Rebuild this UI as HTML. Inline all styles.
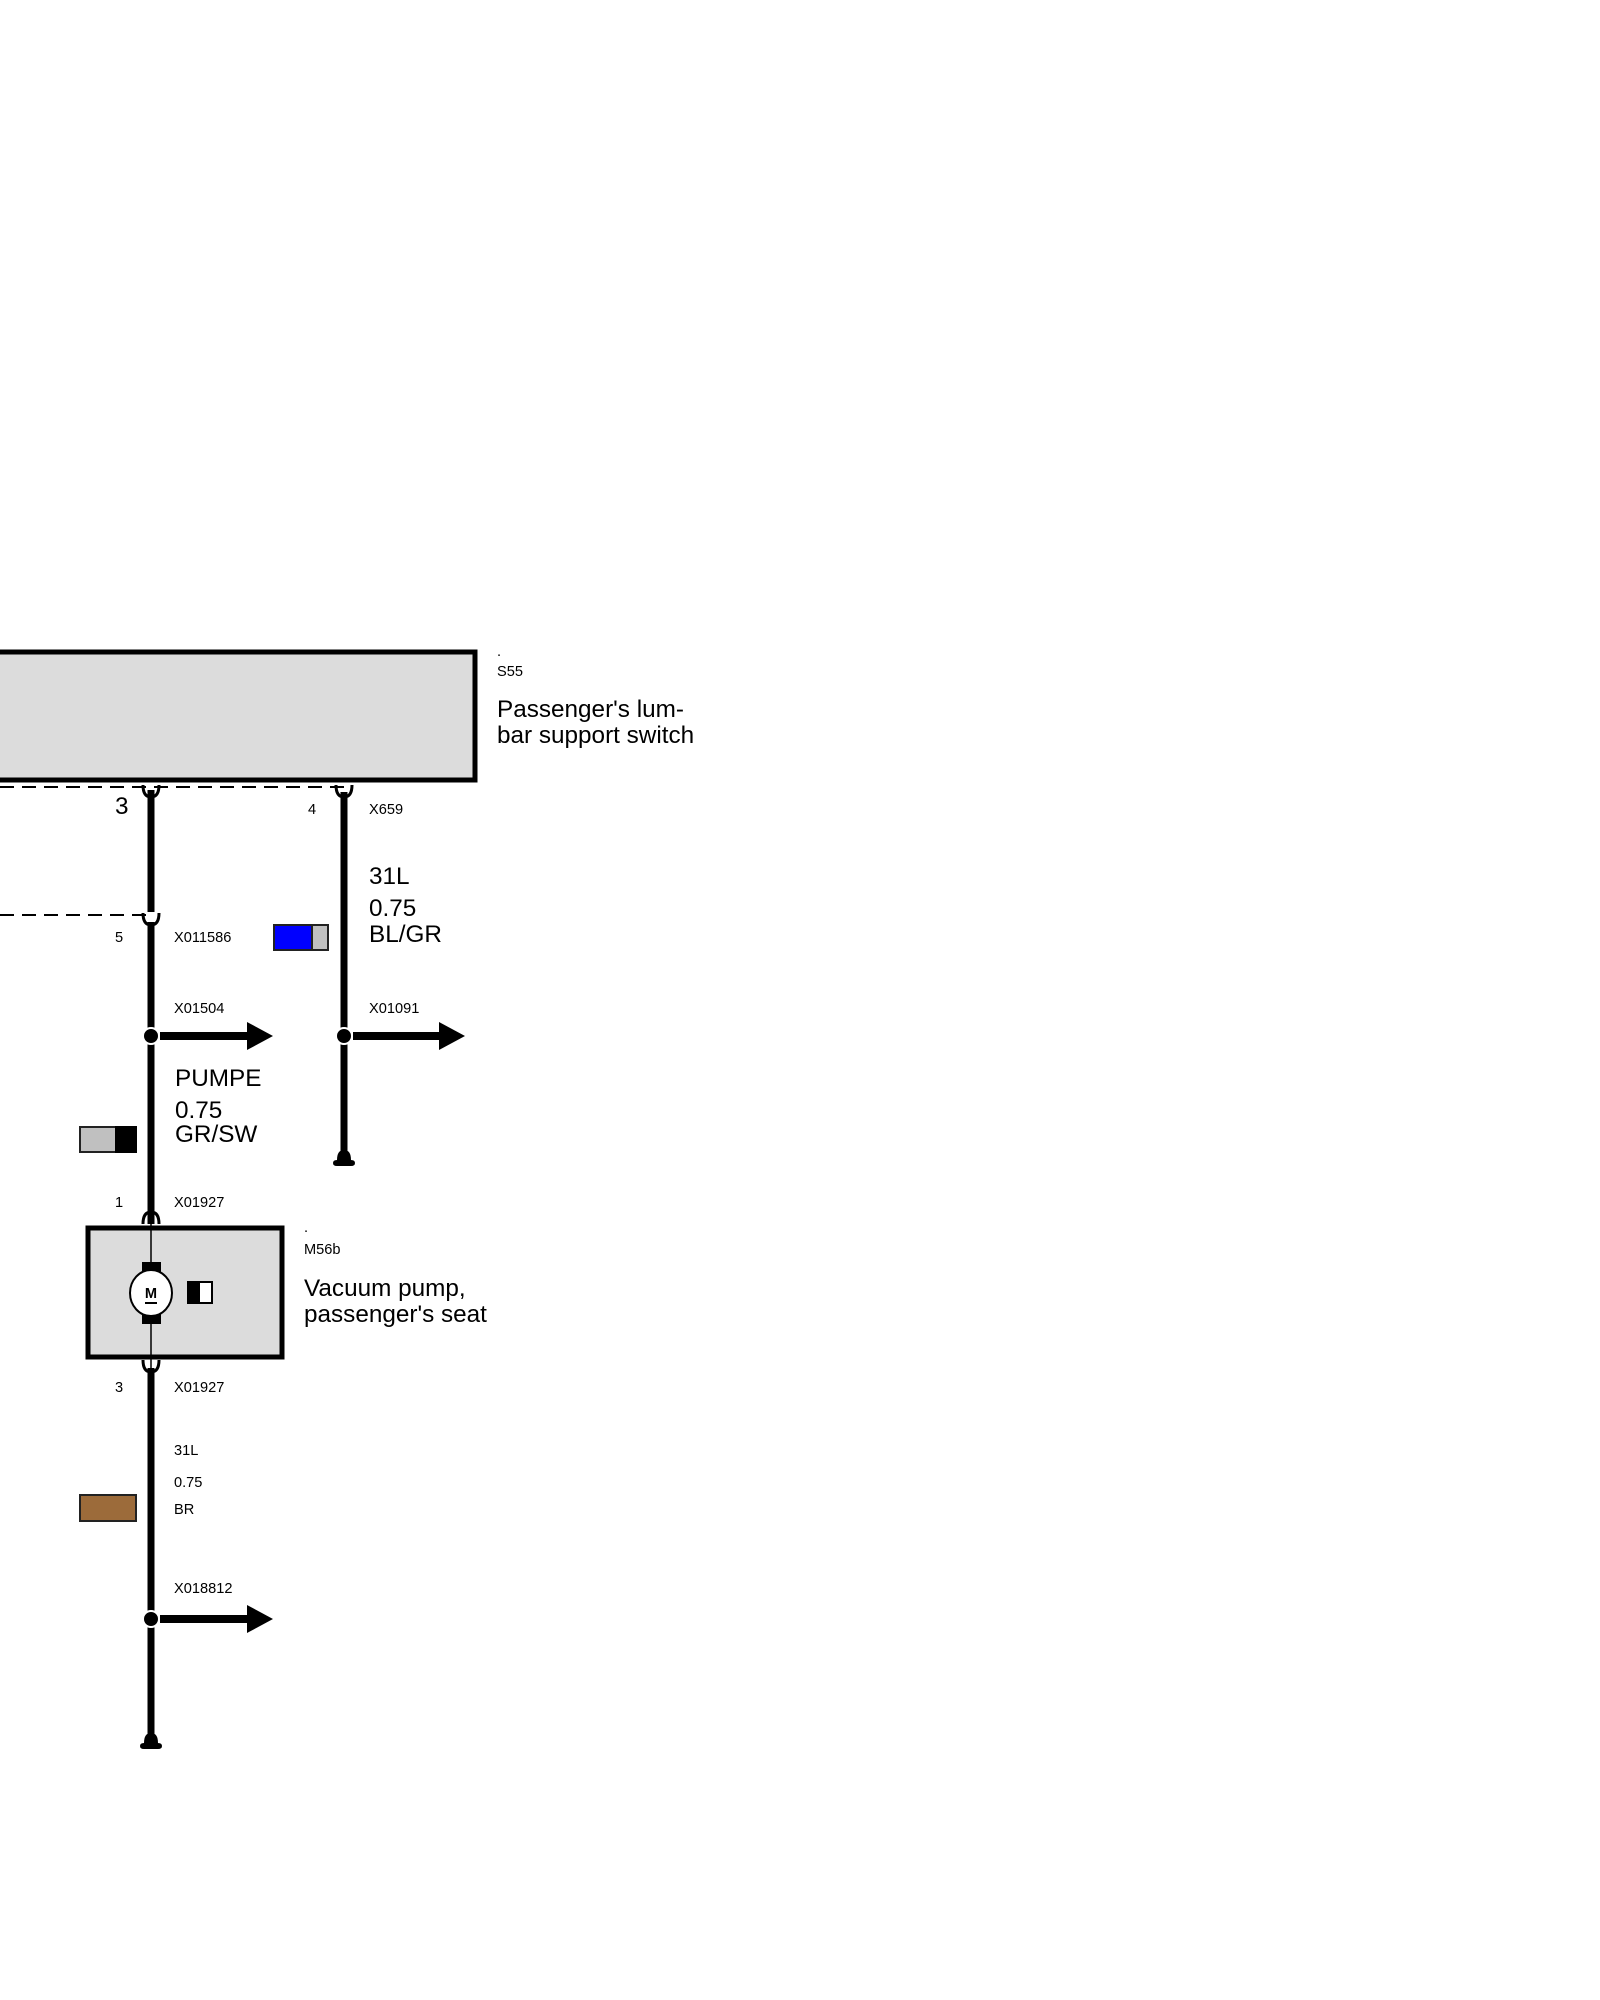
<!DOCTYPE html>
<html><head><meta charset="utf-8"><style>
html,body{margin:0;padding:0;background:#fff}
svg{display:block}
text{font-family:"Liberation Sans",Arial,sans-serif;fill:#000}
.s{font-size:14.6px}
.b{font-size:24.3px}
</style></head><body>
<svg width="1600" height="2000" viewBox="0 0 1600 2000" xmlns="http://www.w3.org/2000/svg">
<rect x="-10" y="652" width="485" height="128" fill="#dcdcdc" stroke="#000" stroke-width="5"/>
<line x1="0" y1="787" x2="344" y2="787" stroke="#000" stroke-width="2" stroke-dasharray="14,8"/>
<line x1="0" y1="915" x2="151" y2="915" stroke="#000" stroke-width="2" stroke-dasharray="14,8"/>
<line x1="151" y1="790" x2="151" y2="912" stroke="#000" stroke-width="7"/>
<path d="M143 785 Q143 797 151 797 Q159 797 159 785" fill="none" stroke="#000" stroke-width="3"/>
<path d="M143 913 Q143 925 151 925 Q159 925 159 913" fill="none" stroke="#000" stroke-width="3"/>
<line x1="151" y1="922" x2="151" y2="1224" stroke="#000" stroke-width="7"/>
<path d="M336 785 Q336 797 344 797 Q352 797 352 785" fill="none" stroke="#000" stroke-width="3"/>
<line x1="344" y1="792" x2="344" y2="1152" stroke="#000" stroke-width="7"/>
<path d="M337 1160 Q337 1150 344 1150 Q351 1150 351 1160 Q355 1160 355 1163 Q355 1166 351 1166 L337 1166 Q333 1166 333 1163 Q333 1160 337 1160 Z" fill="#000"/>
<line x1="160" y1="1036" x2="248" y2="1036" stroke="#000" stroke-width="8"/>
<polygon points="247,1022 273,1036 247,1050" fill="#000"/>
<circle cx="151" cy="1036" r="8" fill="#000" stroke="#fff" stroke-width="2"/>
<line x1="353" y1="1036" x2="440" y2="1036" stroke="#000" stroke-width="8"/>
<polygon points="439,1022 465,1036 439,1050" fill="#000"/>
<circle cx="344" cy="1036" r="8" fill="#000" stroke="#fff" stroke-width="2"/>
<rect x="274" y="925" width="38" height="25" fill="#0000ff" stroke="#222" stroke-width="2"/>
<rect x="312" y="925" width="16" height="25" fill="#c0c0c0" stroke="#222" stroke-width="2"/>
<rect x="80" y="1127" width="36" height="25" fill="#c0c0c0" stroke="#222" stroke-width="2"/>
<rect x="116" y="1127" width="20" height="25" fill="#000" stroke="#000" stroke-width="2"/>
<rect x="80" y="1495" width="56" height="26" fill="#9c6b3a" stroke="#222" stroke-width="2"/>
<path d="M143 1224 Q143 1212 151 1212 Q159 1212 159 1224" fill="none" stroke="#000" stroke-width="3"/>
<rect x="88" y="1228" width="194" height="129" fill="#dcdcdc" stroke="#000" stroke-width="5"/>
<line x1="151" y1="1224" x2="151" y2="1370" stroke="#000" stroke-width="1.5"/>
<rect x="142" y="1262" width="19" height="12" fill="#000"/>
<rect x="142" y="1313" width="19" height="11" fill="#000"/>
<ellipse cx="151" cy="1293" rx="21" ry="23" fill="#fff" stroke="#000" stroke-width="2"/>
<text x="151" y="1298" class="s" text-anchor="middle" font-weight="bold">M</text>
<line x1="145" y1="1303" x2="157" y2="1303" stroke="#000" stroke-width="2"/>
<rect x="188" y="1282" width="24" height="21" fill="#fff" stroke="#000" stroke-width="2"/>
<rect x="188" y="1282" width="12" height="21" fill="#000"/>
<path d="M143 1360 Q143 1372 151 1372 Q159 1372 159 1360" fill="none" stroke="#000" stroke-width="3"/>
<line x1="151" y1="1368" x2="151" y2="1735" stroke="#000" stroke-width="7"/>
<line x1="160" y1="1619" x2="248" y2="1619" stroke="#000" stroke-width="8"/>
<polygon points="247,1605 273,1619 247,1633" fill="#000"/>
<circle cx="151" cy="1619" r="8" fill="#000" stroke="#fff" stroke-width="2"/>
<path d="M144 1743 Q144 1733 151 1733 Q158 1733 158 1743 Q162 1743 162 1746 Q162 1749 158 1749 L144 1749 Q140 1749 140 1746 Q140 1743 144 1743 Z" fill="#000"/>
<g transform="translate(0,-4)">
<text x="497" y="660" class="s">.</text>
<text x="497" y="680" class="s">S55</text>
<text x="497" y="721" class="b">Passenger's lum-</text>
<text x="497" y="747" class="b">bar support switch</text>
<text x="115" y="818" class="b">3</text>
<text x="308" y="818" class="s">4</text>
<text x="369" y="818" class="s">X659</text>
<text x="369" y="888" class="b">31L</text>
<text x="369" y="920" class="b">0.75</text>
<text x="369" y="946" class="b">BL/GR</text>
<text x="115" y="946" class="s">5</text>
<text x="174" y="946" class="s">X011586</text>
<text x="174" y="1017" class="s">X01504</text>
<text x="369" y="1017" class="s">X01091</text>
<text x="175" y="1090" class="b">PUMPE</text>
<text x="175" y="1122" class="b">0.75</text>
<text x="175" y="1146" class="b">GR/SW</text>
<text x="115" y="1211" class="s">1</text>
<text x="174" y="1211" class="s">X01927</text>
<text x="304" y="1236" class="s">.</text>
<text x="304" y="1258" class="s">M56b</text>
<text x="304" y="1300" class="b">Vacuum pump,</text>
<text x="304" y="1326" class="b">passenger's seat</text>
<text x="115" y="1396" class="s">3</text>
<text x="174" y="1396" class="s">X01927</text>
<text x="174" y="1459" class="s">31L</text>
<text x="174" y="1491" class="s">0.75</text>
<text x="174" y="1518" class="s">BR</text>
<text x="174" y="1597" class="s">X018812</text>
</g>
</svg>
</body></html>
